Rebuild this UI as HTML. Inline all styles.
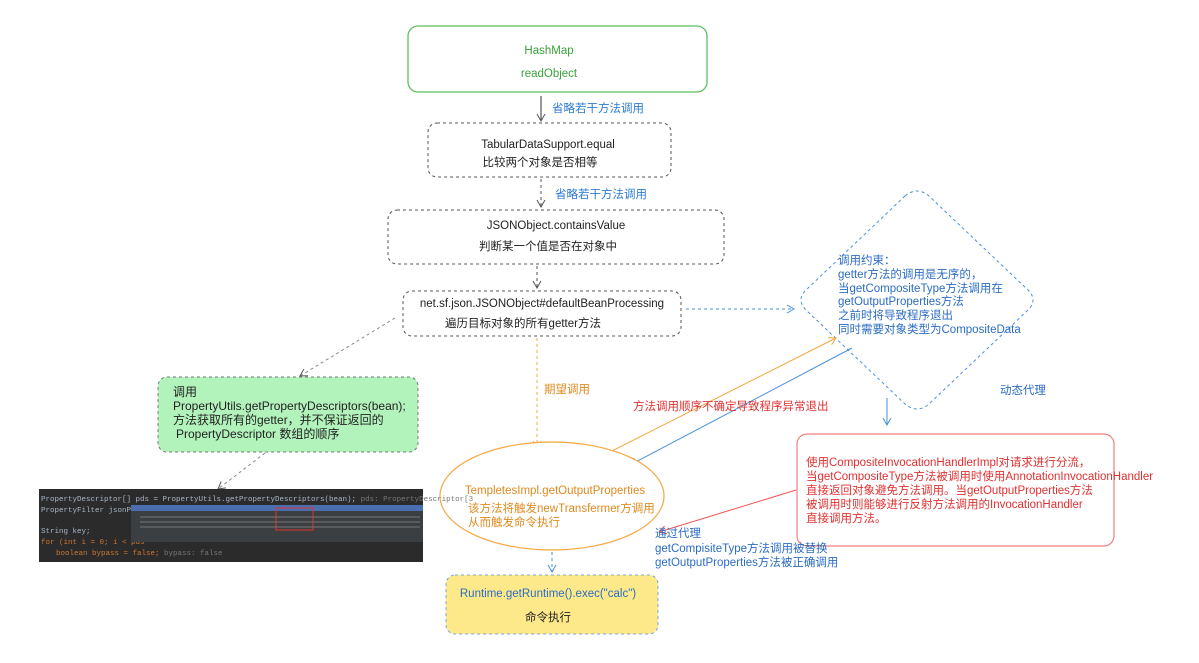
<!DOCTYPE html>
<html><head><meta charset="utf-8"><style>
html,body{margin:0;padding:0;background:#fff;}
svg{display:block;}
text{font-family:"Liberation Sans","Noto Sans CJK SC",sans-serif;font-size:11.5px;}
</style></head><body>
<svg width="1199" height="663" viewBox="0 0 1199 663" xmlns="http://www.w3.org/2000/svg">
<defs>
<marker id="ag" markerWidth="10" markerHeight="10" refX="8" refY="5" orient="auto" markerUnits="userSpaceOnUse"><path d="M1,1 L8,5 L1,9" fill="none" stroke="#555" stroke-width="1"/></marker>
<marker id="ab" markerWidth="10" markerHeight="10" refX="8" refY="5" orient="auto" markerUnits="userSpaceOnUse"><path d="M1,1 L8,5 L1,9" fill="none" stroke="#4a90d9" stroke-width="1"/></marker>
<marker id="ao" markerWidth="10" markerHeight="10" refX="8" refY="5" orient="auto" markerUnits="userSpaceOnUse"><path d="M1,1 L8,5 L1,9" fill="none" stroke="#f5a742" stroke-width="1"/></marker>
<marker id="ar" markerWidth="10" markerHeight="10" refX="8" refY="5" orient="auto" markerUnits="userSpaceOnUse"><path d="M1,1 L8,5 L1,9" fill="none" stroke="#e55" stroke-width="1"/></marker>
</defs>

<rect x="408" y="26" width="299" height="66" rx="10" fill="#fff" stroke="#5cbf5c" stroke-width="1.3"/>
<text x="549" y="54" text-anchor="middle" fill="#3aa03a">HashMap</text>
<text x="549" y="77" text-anchor="middle" fill="#3aa03a">readObject</text>
<line x1="541" y1="96" x2="541" y2="121" stroke="#333" marker-end="url(#ag)"/>
<text x="552" y="112" fill="#2b7bd0">省略若干方法调用</text>

<rect x="428" y="123" width="243" height="54" rx="9" fill="#fff" stroke="#555" stroke-dasharray="3,3"/>
<text x="548" y="148" text-anchor="middle" fill="#222">TabularDataSupport.equal</text>
<text x="540" y="166" text-anchor="middle" fill="#222">比较两个对象是否相等</text>
<line x1="541" y1="179" x2="541" y2="207" stroke="#555" stroke-dasharray="3,3" marker-end="url(#ag)"/>
<text x="555" y="198" fill="#2b7bd0">省略若干方法调用</text>

<rect x="388" y="210" width="336" height="54" rx="9" fill="#fff" stroke="#555" stroke-dasharray="3,3"/>
<text x="556" y="229" text-anchor="middle" fill="#222">JSONObject.containsValue</text>
<text x="548" y="250" text-anchor="middle" fill="#222">判断某一个值是否在对象中</text>
<line x1="537" y1="266" x2="537" y2="288" stroke="#555" stroke-dasharray="3,3" marker-end="url(#ag)"/>

<rect x="403" y="291" width="278" height="45" rx="9" fill="#fff" stroke="#555" stroke-dasharray="3,3"/>
<text x="542" y="307" text-anchor="middle" fill="#222">net.sf.json.JSONObject#defaultBeanProcessing</text>
<text x="523" y="327" text-anchor="middle" fill="#222">遍历目标对象的所有getter方法</text>

<line x1="686" y1="309" x2="794" y2="309" stroke="#4a90d9" stroke-dasharray="3,3" marker-end="url(#ab)"/>

<path d="M905,196 Q917,186 929,196 L1028,290 Q1038,300 1028,310 L929,404 Q917,414 905,404 L806,310 Q796,300 806,290 Z" fill="#fff" stroke="#4a90d9" stroke-dasharray="3,3"/>
<g fill="#2b6cc4">
<text x="838" y="264">调用约束：</text>
<text x="838" y="278">getter方法的调用是无序的，</text>
<text x="838" y="292">当getCompositeType方法调用在</text>
<text x="838" y="305">getOutputProperties方法</text>
<text x="838" y="319">之前时将导致程序退出</text>
<text x="838" y="333">同时需要对象类型为CompositeData</text>
</g>
<text x="1000" y="394" fill="#2b6cc4">动态代理</text>
<line x1="887" y1="398" x2="887" y2="425" stroke="#4a90d9" marker-end="url(#ab)"/>

<rect x="797" y="434" width="317" height="112" rx="10" fill="#fff" stroke="#f08080" stroke-width="1.2"/>
<g fill="#e03030">
<text x="806" y="466">使用CompositeInvocationHandlerImpl对请求进行分流，</text>
<text x="806" y="480">当getCompositeType方法被调用时使用AnnotationInvocationHandler</text>
<text x="806" y="494">直接返回对象避免方法调用。当getOutputProperties方法</text>
<text x="806" y="508">被调用时则能够进行反射方法调用的InvocationHandler</text>
<text x="806" y="522">直接调用方法。</text>
</g>
<line x1="796" y1="490" x2="659" y2="532" stroke="#e55" marker-end="url(#ar)"/>
<g fill="#2b6cc4">
<text x="655" y="537">通过代理</text>
<text x="655" y="552">getCompisiteType方法调用被替换</text>
<text x="655" y="566">getOutputProperties方法被正确调用</text>
</g>

<line x1="600" y1="457" x2="836" y2="338" stroke="#f5a742" marker-end="url(#ao)"/>
<line x1="852" y1="348" x2="630" y2="465" stroke="#4a90d9" marker-end="url(#ab)"/>
<text x="633" y="410" fill="#e03030">方法调用顺序不确定导致程序异常退出</text>

<line x1="537" y1="338" x2="537" y2="448" stroke="#f5a742" stroke-dasharray="3,3" marker-end="url(#ao)"/>
<text x="544" y="393" fill="#e08a1e">期望调用</text>

<ellipse cx="552" cy="496" rx="112" ry="54" fill="#fff" stroke="#f5a742" stroke-width="1.2"/>
<text x="555" y="494" text-anchor="middle" fill="#e08a1e">TempletesImpl.getOutputProperties</text>
<text x="468" y="512" fill="#e08a1e">该方法将触发newTransfermer方调用</text>
<text x="468" y="526" fill="#e08a1e">从而触发命令执行</text>

<line x1="552" y1="552" x2="552" y2="572" stroke="#4a90d9" stroke-dasharray="3,3" marker-end="url(#ab)"/>
<rect x="446" y="575" width="212" height="59" rx="9" fill="#fee98a" stroke="#7aa7d9" stroke-dasharray="3,3"/>
<text x="548" y="597" text-anchor="middle" fill="#2b6cc4">Runtime.getRuntime().exec("calc")</text>
<text x="548" y="621" text-anchor="middle" fill="#222">命令执行</text>

<line x1="395" y1="318" x2="300" y2="376" stroke="#888" stroke-dasharray="3,3" marker-end="url(#ag)"/>
<rect x="158" y="377" width="260" height="75" rx="9" fill="#b2f2bb" stroke="#777" stroke-dasharray="3,3"/>
<g fill="#222">
<text x="173" y="396" style="font-size:12px">调用</text>
<text x="173" y="410" style="font-size:12px">PropertyUtils.getPropertyDescriptors(bean);</text>
<text x="173" y="424" style="font-size:12px">方法获取所有的getter，并不保证返回的</text>
<text x="176" y="438" style="font-size:12px">PropertyDescriptor 数组的顺序</text>
</g>
<line x1="265" y1="453" x2="218" y2="489" stroke="#888" stroke-dasharray="3,3" marker-end="url(#ag)"/>

<rect x="39" y="489" width="384" height="73" fill="#2b2b2b"/>
<text x="41" y="501" fill="#a9b7c6" style="font-family:'Liberation Mono',monospace;font-size:7.5px">PropertyDescriptor[] pds = PropertyUtils.getPropertyDescriptors(bean);  <tspan fill="#777">pds: PropertyDescriptor[3</tspan></text>
<text x="41" y="512" fill="#a9b7c6" style="font-family:'Liberation Mono',monospace;font-size:7.5px">PropertyFilter jsonProp</text>
<text x="41" y="533" fill="#a9b7c6" style="font-family:'Liberation Mono',monospace;font-size:7.5px">String key;</text>
<text x="41" y="544" fill="#cc7832" style="font-family:'Liberation Mono',monospace;font-size:7.5px">for (int i = 0; i &lt; pds</text>
<text x="56" y="555" fill="#cc7832" style="font-family:'Liberation Mono',monospace;font-size:7.5px">boolean bypass = false;  <tspan fill="#777">bypass: false</tspan></text>
<rect x="131" y="505" width="292" height="37" fill="#3c3f41"/>
<rect x="131" y="505" width="292" height="6" fill="#4b6eaf"/>
<rect x="276" y="508" width="37" height="22" fill="none" stroke="#e03030"/>
<line x1="140" y1="517" x2="420" y2="517" stroke="#777" stroke-width="1"/>
<line x1="140" y1="522" x2="420" y2="522" stroke="#777" stroke-width="1"/>
<line x1="140" y1="527" x2="420" y2="527" stroke="#777" stroke-width="1"/>
</svg>
</body></html>
